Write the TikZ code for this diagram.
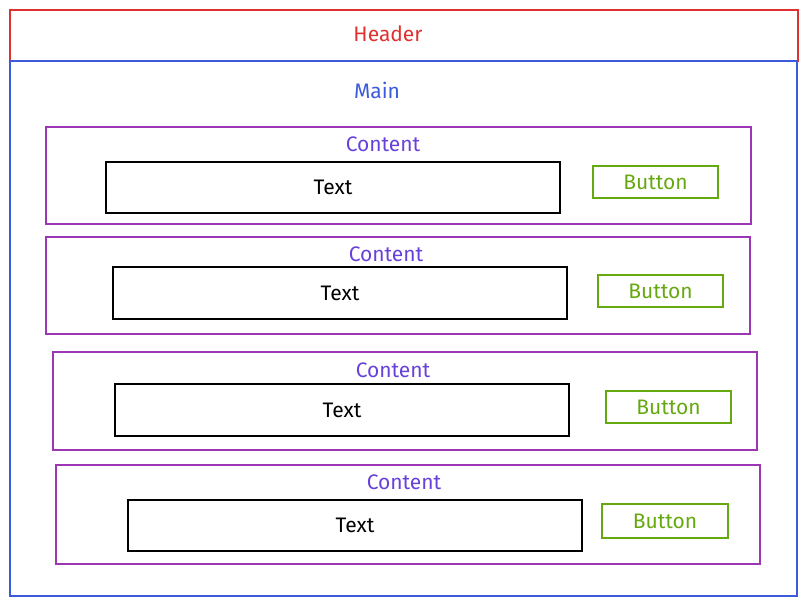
\documentclass[tikz,border=0pt]{standalone}
\usepackage{fontspec}
\setmainfont{Fira Sans}
\definecolor{hred}{RGB}{224,49,49}
\definecolor{mblue}{RGB}{59,91,219}
\definecolor{cpurple}{RGB}{156,54,181}
\definecolor{cviolet}{RGB}{103,65,217}
\definecolor{bgreen}{RGB}{102,168,15}
\tikzset{
  box/.style={draw, line width=1.2pt, inner sep=0pt},
  lbl/.style={font=\fontsize{21}{24}\selectfont},
  headerbox/.style={box, draw=hred, minimum width=788, minimum height=51},
  mainbox/.style={box, draw=mblue, minimum width=787, minimum height=535},
  contentbox/.style={box, draw=cpurple, minimum width=704, minimum height=97},
  textbox/.style={box, draw=black, lbl, minimum width=454, minimum height=51},
  buttonbox/.style={box, draw=bgreen, text=bgreen, lbl, minimum width=125, minimum height=32},
  contentlbl/.style={lbl, text=cviolet}
}
\begin{document}
\begin{tikzpicture}[x=1pt,y=-1pt]
\useasboundingbox (0,0) rectangle (808,606);
% page frame
\node[headerbox] (header) at (404,35.5) {};
\node[lbl, text=hred] (headertxt) at (388,34) {Header};
\node[mainbox] (main) at (403.5,328.5) {};
\node[lbl, text=mblue] (maintxt) at (377,90) {Main};
% row 1
\node[contentbox, minimum width=705] (c1) at (398.5,175.5) {};
\node[contentlbl] (c1lbl) at (383,144) {Content};
\node[textbox] (t1) at (333,187.5) {Text};
\node[buttonbox] (b1) at (655.5,182) {Button};
% row 2
\node[contentbox] (c2) at (398,285.5) {};
\node[contentlbl] (c2lbl) at (386,254) {Content};
\node[textbox, minimum height=52] (t2) at (340,293) {Text};
\node[buttonbox] (b2) at (660.5,291) {Button};
% row 3
\node[contentbox, minimum height=98] (c3) at (405,401) {};
\node[contentlbl] (c3lbl) at (393,370) {Content};
\node[textbox, minimum height=52] (t3) at (342,410) {Text};
\node[buttonbox] (b3) at (668.5,407) {Button};
% row 4
\node[contentbox, minimum height=99] (c4) at (408,514.5) {};
\node[contentlbl] (c4lbl) at (404,482) {Content};
\node[textbox] (t4) at (355,525.5) {Text};
\node[buttonbox, minimum width=126, minimum height=34] (b4) at (665,521) {Button};
\end{tikzpicture}
\end{document}
